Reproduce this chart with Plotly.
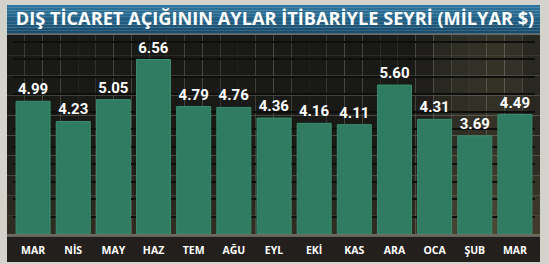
import plotly.graph_objects as go

months = ["MAR", "NİS", "MAY", "HAZ", "TEM", "AĞU", "EYL", "EKİ", "KAS", "ARA", "OCA", "ŞUB", "MAR"]
deficit = [4.99, 4.23, 5.05, 6.56, 4.79, 4.76, 4.36, 4.16, 4.11, 5.60, 4.31, 3.69, 4.49]
labels = [f"{v:.2f}" for v in deficit]
title_text = "DIŞ TİCARET AÇIĞININ AYLAR İTİBARİYLE SEYRİ (MİLYAR $)"

W, H = 549, 264
ML, MR, MT, MB = 13, 14, 35, 30
PW, PH = W - ML - MR, H - MT - MB

def px_x(px):
    return (px - ML) / PW

def px_y(py):
    return (H - MB - py) / PH

def rgb(c):
    return "rgb(%d,%d,%d)" % tuple(int(max(0, min(255, v))) for v in c)

shapes = []
# panel body gradient (x and y)
NX, NY = 30, 10
x0p, x1p, y0p, y1p = 7, 540, 35, 236
for i in range(NX):
    xa = x0p + (x1p - x0p) * i / NX
    xb = x0p + (x1p - x0p) * (i + 1) / NX
    xc = (xa + xb) / 2
    d = (xc - 495) / 80.0
    fx = max(0.0, 1 - d * d) if xc < 530 else max(0.0, 1 - d * d) * 0.7
    for j in range(NY):
        ya = y0p + (y1p - y0p) * j / NY
        yb = y0p + (y1p - y0p) * (j + 1) / NY
        yc = (ya + yb) / 2
        fy = max(0.0, (yc - 140) / 95.0)
        c = (25 + 28 * fx + 26 * fy, 25 + 26 * fx + 22 * fy, 22 + 18 * fx + 14 * fy)
        shapes.append(dict(type="rect", xref="paper", yref="paper",
                           x0=px_x(xa), x1=px_x(xb), y0=px_y(yb), y1=px_y(ya),
                           fillcolor=rgb(c), line=dict(width=0), layer="below"))

# title band (vertical gradient)
NB = 10
for j in range(NB):
    ya = 5 + 28 * j / NB
    yb = 5 + 28 * (j + 1) / NB
    t = j / (NB - 1)
    c = (45 - 22 * t, 118 - 42 * t, 160 - 50 * t)
    shapes.append(dict(type="rect", xref="paper", yref="paper",
                       x0=px_x(7), x1=px_x(540), y0=px_y(yb), y1=px_y(ya),
                       fillcolor=rgb(c), line=dict(width=0), layer="below"))
shapes.append(dict(type="rect", xref="paper", yref="paper",
                   x0=px_x(7), x1=px_x(540), y0=px_y(35), y1=px_y(33),
                   fillcolor="#5d6a6e", line=dict(width=0), layer="below"))
shapes.append(dict(type="rect", xref="paper", yref="paper",
                   x0=px_x(7), x1=px_x(540), y0=px_y(236.5), y1=px_y(234),
                   fillcolor="#6a6a5e", line=dict(width=0), layer="below"))
shapes.append(dict(type="rect", xref="paper", yref="paper",
                   x0=px_x(7), x1=px_x(540), y0=px_y(262), y1=px_y(236.5),
                   fillcolor="#231f1c", line=dict(width=0), layer="below"))

fig = go.Figure()
fig.add_trace(go.Bar(
    x=list(range(len(months))), y=deficit,
    marker=dict(color="#2f7c62", line=dict(color="#3b8c70", width=1)),
    text=labels, textposition="outside", cliponaxis=False,
    outsidetextfont=dict(family="Liberation Sans Narrow, Roboto, sans-serif",
                         size=15, color="white", weight="bold"),
    hoverinfo="skip",
))

fig.update_layout(
    width=W, height=H,
    margin=dict(l=ML, r=MR, t=MT, b=MB, autoexpand=False),
    paper_bgcolor="#d3d3cc", plot_bgcolor="rgba(0,0,0,0)",
    bargap=0.153, showlegend=False,
    shapes=shapes,
    title=dict(text=title_text, x=px_x(275), xref="paper", xanchor="center",
               y=1 - 19 / H, yref="container", yanchor="middle",
               font=dict(family="Open Sans, sans-serif", size=18.2, color="white", weight="bold")),
    xaxis=dict(tickmode="array", tickvals=list(range(len(months))), ticktext=months,
               range=[-0.5, len(months) - 0.5], showgrid=False, zeroline=False,
               showline=False, ticks="", ticklabelstandoff=8,
               tickfont=dict(family="Open Sans, sans-serif", size=10.5, color="white", weight="bold")),
    yaxis=dict(range=[0, PH / 26.6], showticklabels=False, zeroline=False,
               showgrid=True, gridcolor="#0e0e0d", gridwidth=2,
               tick0=0, dtick=17.5 / 26.6, ticks=""),
)

fig.write_html("out.html")
